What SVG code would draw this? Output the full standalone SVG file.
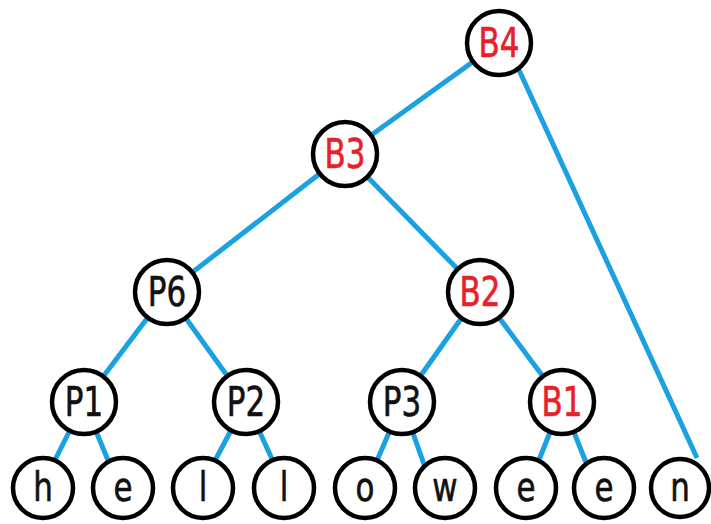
<svg xmlns="http://www.w3.org/2000/svg" width="711" height="524" viewBox="0 0 711 524">
<style>
.e{stroke:#1ba1e2;stroke-width:5;fill:none;stroke-linecap:butt}
.n{fill:#fff;stroke:#000;stroke-width:4.5}
.t{font-family:"Liberation Sans Narrow","DejaVu Sans Condensed","DejaVu Sans",sans-serif;font-size:40px;text-anchor:middle;fill:#111;stroke:#111;stroke-width:0.6}
.r{fill:#e8202a;stroke:#e8202a}
</style>
<rect width="711" height="524" fill="#fff"/>
<g id="edges">
<line class="e" x1="499" y1="43" x2="345" y2="154"/>
<line class="e" x1="519" y1="70" x2="697" y2="458"/>
<line class="e" x1="345" y1="154" x2="167" y2="292"/>
<line class="e" x1="345" y1="154" x2="480" y2="292"/>
<line class="e" x1="167" y1="292" x2="84" y2="402"/>
<line class="e" x1="167" y1="292" x2="246" y2="402"/>
<line class="e" x1="480" y1="292" x2="402" y2="402"/>
<line class="e" x1="480" y1="292" x2="562" y2="402"/>
<line class="e" x1="84" y1="402" x2="50" y2="470"/>
<line class="e" x1="84" y1="402" x2="112" y2="470"/>
<line class="e" x1="246" y1="402" x2="210" y2="470"/>
<line class="e" x1="246" y1="402" x2="277" y2="470"/>
<line class="e" x1="402" y1="402" x2="373" y2="470"/>
<line class="e" x1="402" y1="402" x2="426" y2="470"/>
<line class="e" x1="562" y1="402" x2="535" y2="470"/>
<line class="e" x1="562" y1="402" x2="589" y2="470"/>
</g>
<g id="B4"><circle class="n" cx="499" cy="43" r="32"/><text class="t r" transform="translate(499 57) scale(.86 1)">B4</text></g>
<g id="B3"><circle class="n" cx="345" cy="154" r="32"/><text class="t r" transform="translate(345 168) scale(.86 1)">B3</text></g>
<g id="P6"><circle class="n" cx="167" cy="292" r="32"/><text class="t" transform="translate(167 306) scale(.86 1)">P6</text></g>
<g id="B2"><circle class="n" cx="480" cy="292" r="32"/><text class="t r" transform="translate(480 306) scale(.86 1)">B2</text></g>
<g id="P1"><circle class="n" cx="84" cy="402" r="32"/><text class="t" transform="translate(84 416) scale(.86 1)">P1</text></g>
<g id="P2"><circle class="n" cx="246" cy="402" r="32"/><text class="t" transform="translate(246 416) scale(.86 1)">P2</text></g>
<g id="P3"><circle class="n" cx="402" cy="402" r="32"/><text class="t" transform="translate(402 416) scale(.86 1)">P3</text></g>
<g id="B1"><circle class="n" cx="562" cy="402" r="32"/><text class="t r" transform="translate(562 416) scale(.86 1)">B1</text></g>
<g id="L1"><circle class="n" cx="43" cy="488" r="30"/><text class="t" transform="translate(43 501) scale(.86 1)">h</text></g>
<g id="L2"><circle class="n" cx="123" cy="488" r="30"/><text class="t" transform="translate(123 501) scale(.86 1)">e</text></g>
<g id="L3"><circle class="n" cx="203" cy="488" r="30"/><text class="t" transform="translate(203 501) scale(.86 1)">l</text></g>
<g id="L4"><circle class="n" cx="284" cy="488" r="30"/><text class="t" transform="translate(284 501) scale(.86 1)">l</text></g>
<g id="L5"><circle class="n" cx="365" cy="488" r="30"/><text class="t" transform="translate(365 501) scale(.86 1)">o</text></g>
<g id="L6"><circle class="n" cx="445" cy="488" r="30"/><text class="t" transform="translate(445 501) scale(.86 1)">w</text></g>
<g id="L7"><circle class="n" cx="526" cy="488" r="30"/><text class="t" transform="translate(526 501) scale(.86 1)">e</text></g>
<g id="L8"><circle class="n" cx="604" cy="488" r="30"/><text class="t" transform="translate(604 501) scale(.86 1)">e</text></g>
<g id="L9"><circle class="n" cx="680" cy="488" r="29"/><text class="t" transform="translate(680 501) scale(.86 1)">n</text></g>
</svg>
